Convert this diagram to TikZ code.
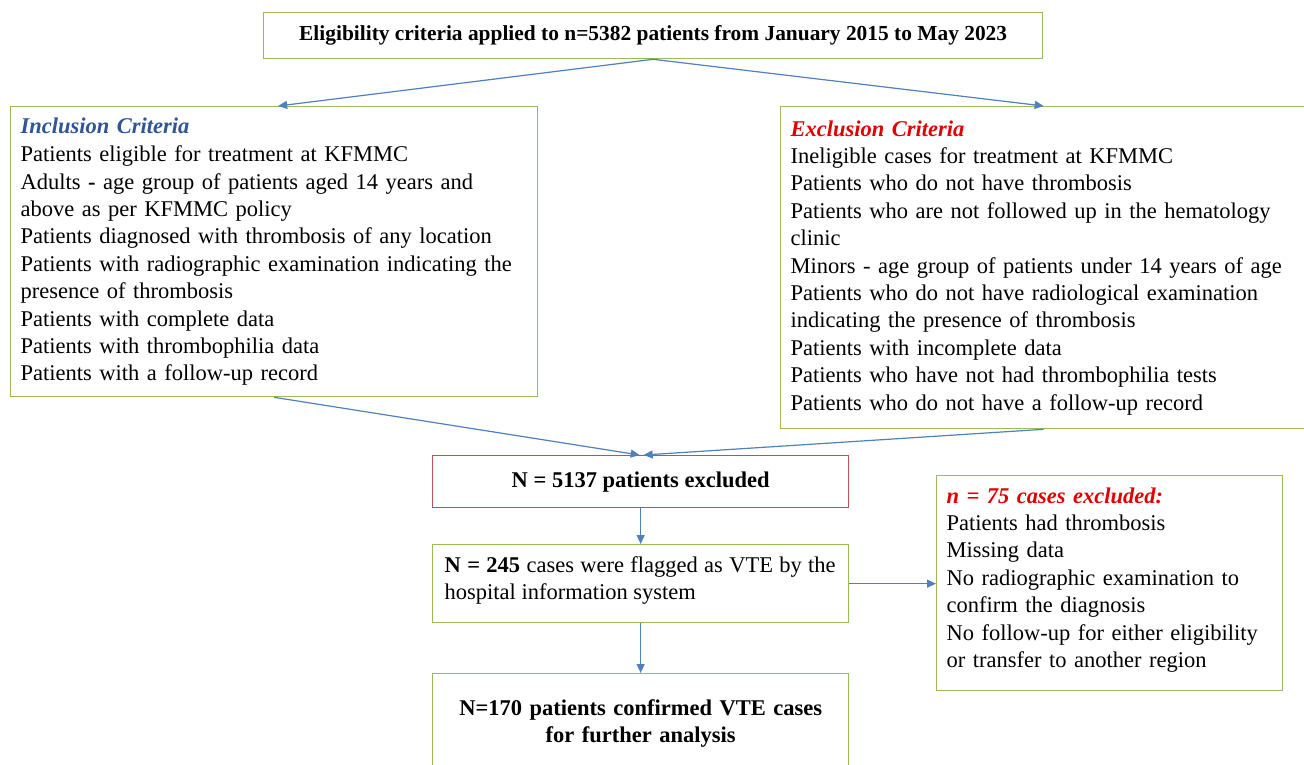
\documentclass[tikz,border=0pt]{standalone}
\usepackage{fontspec}
\setmainfont{Liberation Serif}
\usetikzlibrary{arrows.meta}
\definecolor{boxgreen}{HTML}{9BBB59}
\definecolor{boxred}{HTML}{C0504D}
\definecolor{arrblue}{HTML}{4F81BD}
\definecolor{incblue}{HTML}{2F5597}
\definecolor{excred}{HTML}{E00000}
\begin{document}
\begin{tikzpicture}[x=1pt,y=-1pt,
  every node/.style={font=\fontsize{22.5}{27.4}\selectfont},
  gbox/.style={draw=boxgreen,line width=1.3pt,rectangle,inner sep=0pt,anchor=north west},
  rbox/.style={draw=boxred,line width=1.3pt,rectangle,inner sep=0pt,anchor=north west},
  conn/.style={draw=arrblue,line width=1.2pt,-{Triangle[length=9pt,width=8pt]}}
]
\useasboundingbox (0,0) rectangle (1304,764);
\fill[white] (0,0) rectangle (1304,764);

% top box
\node[gbox,minimum width=779pt,minimum height=46pt,
  font=\fontsize{21.4}{25}\selectfont\bfseries] (top) at (263,12)
  {Eligibility criteria applied to n=5382 patients from January 2015 to May 2023};

% inclusion box
\node[gbox,minimum width=527pt,minimum height=290pt,text width=507pt,align=left,inner xsep=10pt] (inc) at (10,106)
  {\textcolor{incblue}{\textit{\textbf{Inclusion Criteria}}}\\[1pt]
   Patients eligible for treatment at KFMMC\\
   Adults \textbf{-} age group of patients aged 14 years and\\
   above as per KFMMC policy\\
   Patients diagnosed with thrombosis of any location\\
   Patients with radiographic examination indicating the\\
   presence of thrombosis\\
   Patients with complete data\\
   Patients with thrombophilia data\\
   Patients with a follow-up record};

% exclusion box
\node[gbox,minimum width=526pt,minimum height=322pt,text width=506pt,align=left,inner xsep=10pt] (exc) at (780,106)
  {\textcolor{excred}{\textit{\textbf{Exclusion Criteria}}}\\
   Ineligible cases for treatment at KFMMC\\
   Patients who do not have thrombosis\\
   Patients who are not followed up in the hematology\\
   clinic\\
   Minors - age group of patients under 14 years of age\\
   Patients who do not have radiological examination\\
   indicating the presence of thrombosis\\
   Patients with incomplete data\\
   Patients who have not had thrombophilia tests\\
   Patients who do not have a follow-up record};

% N = 5137
\node[rbox,minimum width=416pt,minimum height=52pt,font=\fontsize{22.5}{27.4}\selectfont\bfseries] (exd) at (432,455)
  {N = 5137 patients excluded};

% N = 245
\node[gbox,minimum width=416pt,minimum height=78pt] (flag) at (432,544) {};
\node[anchor=north west,inner sep=0pt,text width=391pt,align=justify] (flagtxt) at (444.5,556.5)
  {\hyphenpenalty=10000\textbf{N = 245} cases were flagged as VTE by the hospital information system};

% N = 170
\node[gbox,minimum width=416pt,minimum height=100pt,text width=400pt,align=center,
  font=\fontsize{22.5}{27.6}\selectfont\bfseries] (conf) at (432,673)
  {N=170 patients confirmed VTE cases\\ for further analysis};

% n = 75
\node[gbox,minimum width=346pt,minimum height=215pt,text width=326pt,align=left,inner xsep=10pt] (n75) at (936,475)
  {\textcolor{excred}{\textit{\textbf{n = 75 cases excluded:}}}\\
   Patients had thrombosis\\
   Missing data\\
   No radiographic examination to\\
   confirm the diagnosis\\
   No follow-up for either eligibility\\
   or transfer to another region\\[-16pt]\mbox{}};

% connectors
\draw[conn] (top.south) -- ([xshift=4pt]inc.north);
\draw[conn] (top.south) -- (exc.north);
\draw[conn] (inc.south) -- ([xshift=-1pt]exd.north);
\draw[conn] (exc.south) -- ([xshift=3pt]exd.north);
\draw[conn] (exd.south) -- (flag.north);
\draw[conn] (flag.south) -- (conf.north);
\draw[conn] (flag.east) -- (flag.east -| n75.west);
\end{tikzpicture}
\end{document}
